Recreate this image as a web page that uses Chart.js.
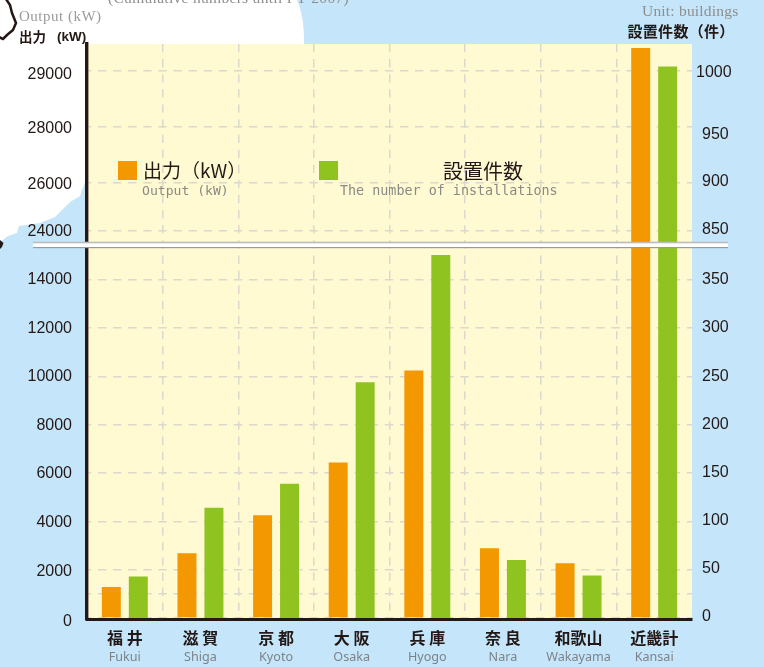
<!DOCTYPE html>
<html lang="ja">
<head>
  <meta charset="UTF-8">
  <title>Kansai output and installations</title>
  <script src="https://cdn.jsdelivr.net/npm/chart.js"></script>
  <style>
    html, body { margin: 0; padding: 0; background: #c5e6fa; }
    canvas { display: block; }
  </style>
</head>
<body>
  <canvas id="chart" width="764" height="667"></canvas>

  <script>
    const prefecturesJa = ['福 井', '滋 賀', '京 都', '大 阪', '兵 庫', '奈 良', '和歌山', '近畿計'];
    const prefecturesEn = ['Fukui', 'Shiga', 'Kyoto', 'Osaka', 'Hyogo', 'Nara', 'Wakayama', 'Kansai'];
    const outputKw = [1280, 2685, 4255, 6440, 10240, 2890, 2270, 29410];
    const installations = [43, 114, 139, 244, 375, 60, 44, 1004];

    const outputTicks = [0, 1000, 2000, 4000, 6000, 8000, 10000, 12000, 14000, 24000, 26000, 28000, 29000];
    const installTicks = [0, 50, 100, 150, 200, 250, 300, 350, 850, 900, 950, 1000];

    // the axes are broken and not even uniform above the break: [value, fraction of axis height]
    const axisKnots = {
      yOutput: [[-62, 0], [0, 0.0026], [14000, 0.5904], [15450, 0.6525], [24000, 0.6751], [26000, 0.7585], [28000, 0.8558], [29000, 0.9531], [29482, 1]],
      yInstall: [[-1.55, 0], [0, 0.0026], [350, 0.5904], [386, 0.6525], [850, 0.6751], [900, 0.7585], [950, 0.8558], [1000, 0.9531], [1024, 1]]
    };
    const axisTicks = { yOutput: outputTicks, yInstall: installTicks };

    // printed tick labels do not sit exactly on their gridlines in the original
    const labelNudge = {
      yOutput: {
        '29000': [0, 4], '28000': [0, 2], '26000': [0, 2], '24000': [0, 1], '14000': [0, 0], '12000': [0, 1],
        '10000': [0, 0], '8000': [0, 1], '6000': [0, 1], '4000': [0, 1], '2000': [0, 2], '0': [0, 4]
      },
      yInstall: {
        '1000': [-6, 2], '950': [0, 8], '900': [0, -1], '850': [0, -1], '350': [0, 0], '300': [0, 0],
        '250': [0, 0], '200': [0, 0], '150': [0, 0], '100': [0, -1], '50': [0, -1], '0': [0, -1]
      }
    };

    const ink = '#231815';
    const grey = '#8a8a84';
    const gridGrey = '#dbd8cc';
    const orange = '#f39800';
    const green = '#8fc31f';

    class BrokenScale extends Chart.LinearScale {
      static id = 'broken';
      static defaults = {};

      buildTicks() {
        return axisTicks[this.id].map(v => ({ value: v }));
      }

      getPixelForValue(value) {
        const knots = axisKnots[this.id];
        let i = 1;
        while (i < knots.length - 1 && value > knots[i][0]) i++;
        const [v0, f0] = knots[i - 1];
        const [v1, f1] = knots[i];
        return this.getPixelForDecimal(f0 + (value - v0) / (v1 - v0) * (f1 - f0));
      }

      _computeLabelItems(area) {
        const items = super._computeLabelItems(area);
        const nudge = labelNudge[this.id];
        items.forEach(item => {
          const n = nudge[item.label];
          if (n) {
            item.options.translation = [item.options.translation[0] + n[0], item.options.translation[1] + n[1]];
          }
        });
        return items;
      }
    }
    Chart.register(BrokenScale);

    function text(ctx, str, x, y, font, color, spacing) {
      ctx.font = font;
      ctx.fillStyle = color;
      ctx.textAlign = 'left';
      ctx.textBaseline = 'middle';
      ctx.letterSpacing = spacing || '0px';
      ctx.fillText(str, x, y);
      ctx.letterSpacing = '0px';
    }

    // white land and coastline of the map behind the plot, plus the yellow plot panel
    const backdrop = {
      id: 'backdrop',
      beforeDraw(chart) {
        const ctx = chart.ctx;
        const a = chart.chartArea;
        ctx.save();
        ctx.fillStyle = '#c5e6fa';
        ctx.fillRect(0, 0, chart.width, chart.height);

        ctx.fillStyle = '#ffffff';
        ctx.beginPath();
        ctx.moveTo(0, 0);
        ctx.lineTo(297, 0);
        ctx.quadraticCurveTo(305, 18, 304, 50);
        ctx.lineTo(100, 150);
        ctx.lineTo(86, 180);
        ctx.lineTo(83, 187);
        ctx.lineTo(80, 196);
        ctx.lineTo(70, 202);
        ctx.lineTo(55, 217);
        ctx.lineTo(40, 223);
        ctx.lineTo(19, 226);
        ctx.lineTo(17, 233);
        ctx.lineTo(8, 236);
        ctx.lineTo(0, 242);
        ctx.closePath();
        ctx.fill();

        ctx.strokeStyle = ink;
        ctx.lineWidth = 2.5;
        ctx.beginPath();
        ctx.moveTo(6, -1);
        ctx.lineTo(10, 5);
        ctx.lineTo(12, 13);
        ctx.lineTo(16, 23);
        ctx.lineTo(13, 30);
        ctx.lineTo(7, 35);
        ctx.lineTo(3, 39);
        ctx.lineTo(-1, 37);
        ctx.stroke();
        ctx.fillStyle = ink;
        ctx.beginPath();
        ctx.moveTo(0, 240);
        ctx.lineTo(3.5, 243);
        ctx.lineTo(2, 247);
        ctx.lineTo(0, 249);
        ctx.closePath();
        ctx.fill();

        ctx.fillStyle = '#fffad2';
        ctx.fillRect(a.left, a.top, a.right - a.left, a.bottom - a.top);
        ctx.restore();
      }
    };

    // captions, legend and the white band marking the axis break
    const annotations = {
      id: 'annotations',
      afterDraw(chart) {
        const ctx = chart.ctx;
        const cjk = '"Noto Sans CJK JP"';
        ctx.save();

        ctx.fillStyle = '#ffffff';
        ctx.fillRect(33, 243, 695, 4);
        ctx.fillStyle = '#bcbcbc';
        ctx.fillRect(33, 241.7, 695, 1.6);
        ctx.fillStyle = '#9a9a9a';
        ctx.fillRect(33, 247, 695, 1.2);

        text(ctx, '(Cumulative numbers until FY 2007)', 108, -1, '15.5px "Liberation Serif"', '#8e8e8e', '0.3px');
        text(ctx, 'Output (kW)', 19, 17, '15px "Liberation Serif"', '#9a9a9a', '0.5px');
        text(ctx, '出力', 19, 37, 'bold 13.5px ' + cjk, ink);
        text(ctx, '(kW)', 57, 37, 'bold 13.5px "Liberation Sans"', ink);
        text(ctx, 'Unit: buildings', 642, 12, '15.5px "Liberation Serif"', '#8e8e8e', '0.2px');
        text(ctx, '設置件数（件）', 627.5, 31, 'bold 15px ' + cjk, ink, '0.3px');

        ctx.fillStyle = orange;
        ctx.fillRect(118, 161, 19, 19);
        ctx.fillStyle = green;
        ctx.fillRect(319, 161, 19, 19);
        text(ctx, '出力（kW）', 143, 171, '19px ' + cjk, ink);
        text(ctx, 'Output (kW)', 142, 192, '13.1px "DejaVu Sans Mono"', grey);
        text(ctx, '設置件数', 443, 171, '20px ' + cjk, ink);
        text(ctx, 'The number of installations', 340, 192, '13.4px "DejaVu Sans Mono"', grey);
        ctx.restore();
      }
    };

    const dash = [8.3, 6.8];

    new Chart(document.getElementById('chart'), {
      type: 'bar',
      data: {
        labels: prefecturesJa,
        datasets: [
          { label: '出力 (kW)', data: outputKw, yAxisID: 'yOutput', backgroundColor: orange },
          { label: '設置件数', data: installations, yAxisID: 'yInstall', backgroundColor: green }
        ]
      },
      plugins: [backdrop, annotations],
      options: {
        responsive: false,
        animation: false,
        events: [],
        categoryPercentage: 0.713,
        barPercentage: 0.704,
        layout: { padding: { top: 44, left: 0, right: 0, bottom: 0 } },
        plugins: { legend: { display: false }, tooltip: { enabled: false } },
        scales: {
          x: {
            position: 'bottom',
            afterFit: s => { s.height = 28; },
            border: { color: ink, width: 3, z: 1, dash: dash },
            grid: {
              drawTicks: false,
              lineWidth: 1.5,
              color: c => (c.tick && c.index > 0 ? gridGrey : 'transparent')
            },
            ticks: {
              padding: 9,
              maxRotation: 0,
              autoSkip: false,
              color: ink,
              font: { family: '"Noto Sans CJK JP"', size: 16, weight: 'bold' }
            }
          },
          x2: {
            type: 'category',
            position: 'bottom',
            labels: prefecturesEn,
            afterFit: s => { s.height = 19.5; },
            border: { display: false },
            grid: { display: false, drawTicks: false },
            ticks: {
              padding: 2,
              maxRotation: 0,
              autoSkip: false,
              color: '#7e8287',
              font: { family: '"Noto Sans"', size: 12.6 }
            }
          },
          yOutput: {
            type: 'broken',
            position: 'left',
            min: -62,
            max: 29482,
            afterFit: s => { s.width = 87; },
            border: { color: ink, width: 3.4, z: 1, dash: dash, dashOffset: 5.5 },
            grid: { drawTicks: false, color: gridGrey, lineWidth: 1.5 },
            ticks: {
              padding: 15,
              autoSkip: false,
              color: ink,
              font: { family: '"Liberation Sans"', size: 16 },
              callback: v => (v === 1000 ? '' : String(v))
            }
          },
          yInstall: {
            type: 'broken',
            position: 'right',
            min: -1.55,
            max: 1024,
            afterFit: s => { s.width = 72; },
            border: { display: false },
            grid: { display: false, drawTicks: false },
            ticks: {
              padding: 10,
              autoSkip: false,
              color: ink,
              font: { family: '"Liberation Sans"', size: 16 },
              callback: v => String(v)
            }
          }
        }
      }
    });
  </script>
</body>
</html>
